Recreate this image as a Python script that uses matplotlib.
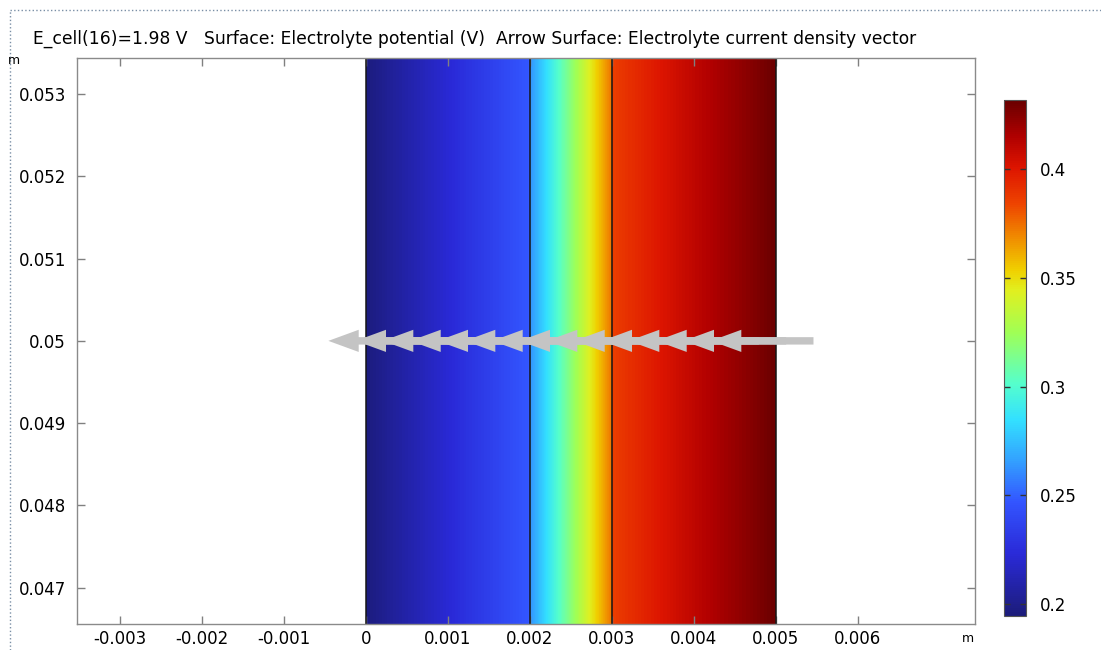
import numpy as np
import matplotlib.pyplot as plt
from matplotlib.colors import LinearSegmentedColormap
from matplotlib.patches import Rectangle

# electrolyte potential (V) sampled across the three domains (x in m)
x_sep = [0.0, 0.0005, 0.001, 0.0015, 0.002]
phi_sep = [0.196, 0.209, 0.222, 0.235, 0.248]
x_mem = [0.002, 0.0025, 0.003]
phi_mem = [0.262, 0.318, 0.374]
x_cat = [0.003, 0.004, 0.005]
phi_cat = [0.386, 0.410, 0.431]
boundaries = [0.0, 0.002, 0.003, 0.005]

# arrow positions along the midline, all with the same length
arrow_x = [0.000167, 0.0005, 0.000833, 0.001167, 0.0015, 0.001833, 0.002167,
           0.0025, 0.002833, 0.003167, 0.0035, 0.003833, 0.004167, 0.0045, 0.004833]
arrow_y = 0.05
arrow_len = 0.00125

xticks = [-0.003, -0.002, -0.001, 0, 0.001, 0.002, 0.003, 0.004, 0.005, 0.006]
xticklabels = ['-0.003', '-0.002', '-0.001', '0', '0.001', '0.002', '0.003', '0.004', '0.005', '0.006']
yticks = [0.047, 0.048, 0.049, 0.05, 0.051, 0.052, 0.053]
yticklabels = ['0.047', '0.048', '0.049', '0.05', '0.051', '0.052', '0.053']
cbar_ticks = [0.2, 0.25, 0.3, 0.35, 0.4]
cbar_labels = ['0.2', '0.25', '0.3', '0.35', '0.4']
vmin, vmax = 0.1945, 0.4317

title = "E_cell(16)=1.98 V   Surface: Electrolyte potential (V)  Arrow Surface: Electrolyte current density vector"

rainbow = LinearSegmentedColormap.from_list('rainbow_comsol', [
    (0.00, '#1c1c7a'), (0.12, '#2a2ad8'), (0.22, '#3355ff'), (0.30, '#33a0ff'),
    (0.38, '#33e0ff'), (0.45, '#55ffcc'), (0.55, '#a0ff55'), (0.63, '#e0f020'),
    (0.67, '#f0d000'), (0.73, '#f09000'), (0.80, '#ee4400'), (0.87, '#dd1500'),
    (0.93, '#b00000'), (1.00, '#6a0000')])

fig = plt.figure(figsize=(11.01, 6.5), dpi=100)
ax = fig.add_axes([0.0699, 0.04, 0.8156, 0.8708])

xlim = (-0.003524, 0.007427)
ylim = (0.046557, 0.05344)

for xs, ps in [(x_sep, phi_sep), (x_mem, phi_mem), (x_cat, phi_cat)]:
    # one image row per domain, pixel centres on the sample nodes, then clipped to the domain
    dx = xs[1] - xs[0]
    img = ax.imshow(np.array([ps, ps]), cmap=rainbow, vmin=vmin, vmax=vmax,
                    extent=[xs[0] - dx / 2, xs[-1] + dx / 2, ylim[0] - 0.002, ylim[1] + 0.002],
                    interpolation='bilinear', interpolation_stage='data',
                    aspect='auto', origin='lower', zorder=1)
    clip = Rectangle((xs[0], ylim[0]), xs[-1] - xs[0], ylim[1] - ylim[0],
                     transform=ax.transData)
    img.set_clip_path(clip)

for b in boundaries:
    ax.axvline(b, color='#151515', lw=1.1, zorder=2)

for xc in arrow_x:
    ax.arrow(xc + arrow_len / 2, arrow_y, -arrow_len, 0, width=0.00009,
             head_width=0.00027, head_length=0.00037, length_includes_head=True,
             color='#c4c4c4', lw=0, zorder=3)

ax.set_xlim(*xlim)
ax.set_ylim(*ylim)
ax.set_xticks(xticks)
ax.set_xticklabels(xticklabels)
ax.set_yticks(yticks)
ax.set_yticklabels(yticklabels)
ax.tick_params(direction='in', length=6, width=1, color='#808080', labelsize=12,
               top=True, right=True)
ax.tick_params(axis='x', pad=4)
ax.tick_params(axis='y', pad=8)
for s in ax.spines.values():
    s.set_color('#8a8a8a')
    s.set_linewidth(1)

fig.text(33 / 1101, 1 - 39 / 650, title, fontsize=12.3, va='center', ha='left')
fig.text(14 / 1101, 1 - 60 / 650, 'm', fontsize=9, va='center', ha='center')
fig.text(968 / 1101, 1 - 638 / 650, 'm', fontsize=9, va='center', ha='center')

cax = fig.add_axes([0.9119, 0.0523, 0.02, 0.7938])
cb = fig.colorbar(img, cax=cax, ticks=cbar_ticks)
cb.ax.set_yticklabels(cbar_labels)
cb.ax.tick_params(direction='in', length=4, width=1, color='#333333', labelsize=12,
                  left=True, right=True, pad=10)
cb.outline.set_edgecolor('#555555')

# dotted panel border
fig.add_artist(plt.Line2D([10 / 1101, 1], [1 - 10 / 650] * 2, color='#7a8fa6', lw=1, ls=':'))
fig.add_artist(plt.Line2D([10 / 1101] * 2, [0, 1 - 10 / 650], color='#7a8fa6', lw=1, ls=':'))

fig.savefig('out.png', dpi=100)
